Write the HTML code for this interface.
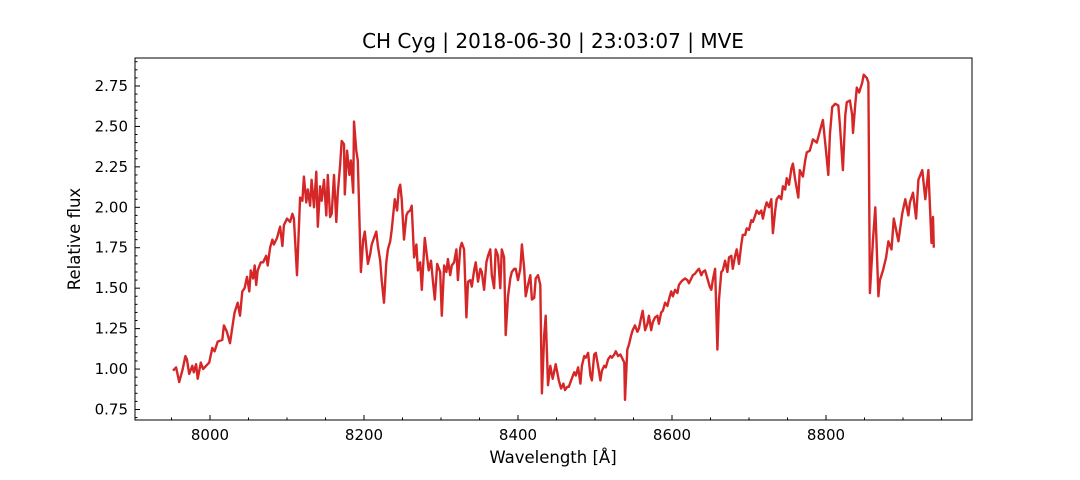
<!DOCTYPE html>
<html><head><meta charset="utf-8"><style>
html,body{margin:0;padding:0;background:#fff;}
svg{display:block;font-family:"DejaVu Sans","Liberation Sans",sans-serif;}
</style></head>
<body>
<svg id="chart" width="1080" height="480" viewBox="0 0 1080 480" xmlns="http://www.w3.org/2000/svg">
<rect x="0" y="0" width="1080" height="480" fill="#fff"/>
<text x="553" y="48" font-size="20" text-anchor="middle" fill="#000">CH Cyg | 2018-06-30 | 23:03:07 | MVE</text>
<text x="553" y="463" font-size="16.5" text-anchor="middle" fill="#000">Wavelength [Å]</text>
<text x="0" y="0" font-size="16.5" text-anchor="middle" fill="#000" transform="translate(80,239) rotate(-90)">Relative flux</text>
<g id="plot"></g>
</svg>
<script>
const wavelengths=[7952,7956,7960,7964,7968,7970,7973,7977,7979,7982,7984,7988,7991,7995,7999,8003,8006,8010,8016,8018,8022,8026,8030,8032,8036,8039,8042,8045,8048,8051,8053,8056,8058,8060,8062,8066,8069,8073,8075,8078,8081,8083,8087,8091,8094,8096,8100,8104,8107,8109,8113,8117,8120,8122,8125,8127,8130,8132,8135,8138,8140,8143,8145,8148,8151,8153,8156,8158,8161,8164,8166,8169,8171,8174,8175,8178,8181,8183,8186,8187,8190,8192,8196,8199,8201,8205,8208,8210,8213,8216,8218,8221,8223,8226,8229,8231,8234,8236,8238,8240,8243,8245,8247,8249,8252,8255,8257,8260,8262,8265,8268,8270,8273,8275,8278,8279,8282,8284,8287,8290,8292,8295,8299,8301,8304,8307,8309,8312,8314,8317,8320,8322,8325,8327,8330,8333,8335,8338,8340,8343,8345,8348,8351,8353,8356,8359,8361,8364,8366,8369,8371,8374,8377,8379,8382,8384,8387,8390,8392,8395,8397,8400,8403,8405,8408,8410,8413,8416,8418,8421,8423,8426,8429,8431,8434,8436,8439,8442,8445,8449,8453,8456,8459,8461,8464,8466,8469,8473,8475,8478,8481,8483,8486,8488,8491,8494,8496,8499,8501,8504,8507,8509,8512,8514,8517,8520,8522,8525,8527,8530,8533,8535,8538,8539,8542,8544,8547,8549,8552,8555,8557,8560,8562,8565,8568,8570,8573,8575,8578,8581,8583,8586,8588,8591,8594,8596,8599,8601,8604,8607,8609,8612,8614,8617,8620,8622,8625,8627,8630,8633,8635,8638,8640,8643,8646,8649,8651,8653,8656,8659,8661,8664,8666,8669,8672,8674,8677,8679,8682,8684,8687,8690,8692,8695,8697,8700,8703,8705,8708,8710,8713,8716,8718,8721,8723,8726,8729,8731,8734,8736,8739,8742,8744,8747,8749,8752,8755,8757,8760,8764,8766,8770,8773,8775,8779,8783,8788,8792,8796,8800,8803,8805,8808,8812,8816,8818,8822,8825,8827,8831,8834,8835,8838,8840,8843,8847,8849,8853,8855,8857,8861,8864,8866,8868,8870,8874,8878,8881,8885,8888,8894,8899,8903,8907,8909,8913,8917,8920,8925,8929,8933,8937,8939,8940];
const fluxes=[0.99,1.01,0.92,0.99,1.08,1.06,0.97,1.02,0.98,1.03,0.94,1.04,1.00,1.02,1.04,1.13,1.11,1.17,1.18,1.27,1.23,1.16,1.29,1.35,1.41,1.33,1.48,1.50,1.57,1.48,1.61,1.56,1.64,1.52,1.61,1.66,1.66,1.70,1.64,1.75,1.80,1.77,1.81,1.88,1.76,1.89,1.93,1.91,1.96,1.93,1.58,2.06,2.04,2.19,2.03,2.11,2.01,2.17,2.00,2.22,1.88,2.13,2.04,2.17,1.95,2.20,1.94,1.96,2.20,1.91,2.09,2.26,2.41,2.39,2.08,2.35,2.20,2.29,2.09,2.53,2.35,2.29,1.60,1.80,1.85,1.65,1.71,1.77,1.81,1.85,1.76,1.67,1.55,1.41,1.66,1.74,1.79,1.86,1.96,2.05,1.98,2.11,2.14,2.05,1.80,1.95,1.97,1.98,2.01,1.69,1.77,1.61,1.66,1.49,1.74,1.81,1.69,1.61,1.67,1.52,1.43,1.65,1.60,1.33,1.64,1.60,1.68,1.58,1.64,1.66,1.74,1.55,1.75,1.78,1.74,1.32,1.54,1.55,1.51,1.61,1.66,1.54,1.62,1.60,1.49,1.66,1.70,1.74,1.58,1.50,1.74,1.70,1.50,1.74,1.69,1.21,1.45,1.56,1.60,1.62,1.62,1.55,1.62,1.77,1.62,1.45,1.52,1.58,1.43,1.44,1.56,1.58,1.52,0.85,1.21,1.33,0.90,1.02,0.94,1.03,0.93,0.88,0.91,0.87,0.89,0.89,0.93,0.98,0.96,1.01,0.91,1.02,1.08,1.07,1.10,0.96,0.93,1.09,1.10,1.02,0.93,0.99,1.02,1.01,1.06,1.08,1.07,1.09,1.11,1.08,1.09,1.07,1.04,0.81,1.12,1.15,1.21,1.24,1.27,1.23,1.25,1.32,1.36,1.24,1.28,1.33,1.24,1.29,1.32,1.33,1.28,1.35,1.36,1.41,1.39,1.43,1.48,1.45,1.49,1.47,1.52,1.54,1.55,1.56,1.55,1.53,1.56,1.58,1.59,1.61,1.62,1.58,1.60,1.61,1.56,1.51,1.49,1.55,1.62,1.12,1.43,1.60,1.61,1.67,1.60,1.69,1.70,1.62,1.70,1.74,1.65,1.77,1.83,1.83,1.87,1.86,1.92,1.91,1.95,1.98,1.96,1.98,1.93,2.00,2.03,2.00,2.05,1.84,1.98,2.05,2.07,2.05,2.13,2.11,2.18,2.14,2.24,2.27,2.17,2.06,2.23,2.19,2.29,2.34,2.35,2.42,2.40,2.47,2.54,2.35,2.20,2.45,2.62,2.64,2.63,2.51,2.23,2.57,2.65,2.66,2.57,2.46,2.64,2.74,2.71,2.77,2.82,2.80,2.77,1.47,1.80,2.00,1.74,1.45,1.55,1.61,1.69,1.79,1.74,1.93,1.79,1.96,2.05,1.95,2.03,2.09,1.93,2.17,2.23,2.05,2.23,1.78,1.94,1.75];
const xTicks=[8000,8200,8400,8600,8800];
const xTickLabels=["8000","8200","8400","8600","8800"];
const yTicks=[0.75,1.00,1.25,1.50,1.75,2.00,2.25,2.50,2.75];
const yTickLabels=["0.75","1.00","1.25","1.50","1.75","2.00","2.25","2.50","2.75"];

const L=135,R=972,T=58,B=420;
const xMin=7902.6,xMax=8989.6,yMin=0.685,yMax=2.923;
const xs=v=>L+(v-xMin)/(xMax-xMin)*(R-L);
const ys=v=>B-(v-yMin)/(yMax-yMin)*(B-T);
const NS="http://www.w3.org/2000/svg";
const g=document.getElementById('plot');
function mk(tag,attrs){const e=document.createElementNS(NS,tag);for(const k in attrs)e.setAttribute(k,attrs[k]);g.appendChild(e);return e;}

let d="";
for(let i=0;i<wavelengths.length;i++){d+=(i?"L":"M")+xs(wavelengths[i]).toFixed(1)+","+ys(fluxes[i]).toFixed(1);}
const line=mk('path',{d:d,fill:'none',stroke:'#d62728','stroke-width':2.4,'stroke-linejoin':'round'});



const frame=mk('rect',{x:L,y:T,width:R-L,height:B-T,fill:'none',stroke:'#000','stroke-width':1});



for(let v=7950;v<=8950;v+=50){
  const major=xTicks.indexOf(v)>=0;const x=xs(v);
  const t=mk('line',{x1:x,x2:x,y1:B,y2:B-(major?5:2.5),stroke:'#000','stroke-width':1});
  
  
}
xTicks.forEach((v,i)=>{
  const t=mk('text',{x:xs(v),y:B+20,'font-size':15,'text-anchor':'middle',fill:'#000'});
  t.textContent=xTickLabels[i];
  
  
});
for(let k=14;k<=58;k++){
  const v=k*0.05;const major=(k%5===0);const y=ys(v);
  if(y<T||y>B)continue;
  const t=mk('line',{x1:L,x2:L+(major?5:2.5),y1:y,y2:y,stroke:'#000','stroke-width':1});
  
  
}
yTicks.forEach((v,i)=>{
  const t=mk('text',{x:L-7,y:ys(v)+5,'font-size':15,'text-anchor':'end',fill:'#000'});
  t.textContent=yTickLabels[i];
  
  
});
</script>
</body></html>
